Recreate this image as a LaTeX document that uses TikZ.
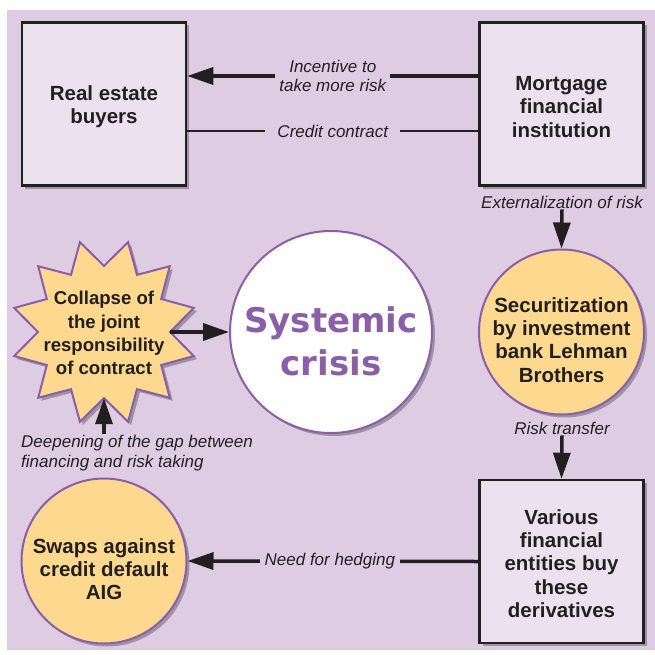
\documentclass[tikz,border=0pt]{standalone}
\usepackage{fontspec}
\setmainfont{Liberation Sans}
\newfontfamily\heavyfont{DejaVu Sans}
\usetikzlibrary{arrows.meta,shadows}
\definecolor{bg}{HTML}{DECCE3}
\definecolor{boxfill}{HTML}{ECE1EF}
\definecolor{orangefill}{HTML}{FDD98F}
\definecolor{purp}{HTML}{8B5FA8}
\definecolor{shadowc}{HTML}{9C94A2}
\definecolor{ink}{HTML}{231F20}
\begin{document}
\begin{tikzpicture}[x=1pt,y=-1pt,
  shad/.style={drop shadow={shadow xshift=3pt, shadow yshift=-3pt, fill=shadowc, opacity=1}},
  boxnode/.style={shad, draw=ink, line width=2.5pt, fill=boxfill, minimum width=164pt, minimum height=163pt, inner sep=0pt},
  circnode/.style={shad, circle, draw=purp, line width=2pt, fill=orangefill, minimum size=165pt, inner sep=0pt},
  bodytext/.style={align=center, text=ink, font=\bfseries\fontsize{20.5}{23.3}\selectfont, inner sep=0pt},
  lab/.style={text=ink, fill=bg, inner xsep=6pt, inner ysep=1pt, align=center, font=\itshape\fontsize{17}{18.5}\selectfont},
  freelab/.style={text=ink, inner sep=1pt, align=center, font=\itshape\fontsize{17}{20}\selectfont},
  conn/.style={draw=ink, line width=3.5pt, -{Triangle[length=26pt,width=17pt]}},
  plainline/.style={draw=ink, line width=2.7pt}
]
\useasboundingbox (0,0) rectangle (655,655);
\fill[bg] (7,10) rectangle (655,650);

% boxes
\node[boxnode] (reb) at (104,104) {};
\node[bodytext] (rebT) at (104,106.5) {Real estate\\buyers};
\node[boxnode] (mort) at (561.5,104) {};
\node[bodytext] (mortT) at (561.5,107) {Mortgage\\financial\\institution};
\node[boxnode] (var) at (561.5,561.5) {};
\node[bodytext] (varT) at (561.5,563.5) {Various\\financial\\entities buy\\these\\derivatives};

% circles
\node[circnode] (sec) at (561.5,332) {};
\node[bodytext] (secT) at (561.5,340) {Securitization\\by investment\\bank Lehman\\Brothers};
\node[circnode] (aig) at (104,561) {};
\node[bodytext] (aigT) at (104,569) {Swaps against\\credit default\\AIG};
\node[shad, circle, draw=purp, line width=2pt, fill=white, minimum size=202pt, inner sep=0pt] (sys) at (331,332) {};
\node[align=center, text=purp, inner sep=0pt, font=\heavyfont\bfseries\fontsize{34}{43}\selectfont] (sysT) at (331,341) {Systemic\\crisis};

% star (12 points)
\node[circle, minimum size=132pt, inner sep=0pt] (star) at (104,332) {};
\draw[shad, draw=purp, line width=2pt, fill=orangefill, line join=miter, shift={(104,332)}]
  plot[samples at={0,...,23}] ({15+15*\x}:{isodd(\x) ? 66 : 93}) -- cycle;
\node[align=center, text=ink, inner sep=0pt, font=\bfseries\fontsize{18.6}{23.3}\selectfont] (starT) at (104,333) {Collapse of\\the joint\\responsibility\\of contract};

% connectors
\draw[conn] (mort.west |- 0,76) -- (reb.east |- 0,76) node[lab, midway, inner xsep=4pt] (incT) {Incentive to\\take more risk};
\draw[plainline] (reb.east |- 0,131) -- (mort.west |- 0,131) node[lab, midway, inner xsep=12pt] (credT) {Credit contract};

\node[freelab] (extT) at (562,202) {Externalization of risk};
\draw[conn] (extT.south) -- (sec.north);

\node[freelab] (rtT) at (562,428) {Risk transfer};
\draw[conn] (rtT.south) -- (var.north);

\draw[conn] (var.west) -- (aig.east) node[lab, midway, xshift=-3pt, inner xsep=5pt] (hedT) {Need for hedging};

\draw[conn] (star.east) -- (star.east -| sys.west);

\node[freelab, align=left, anchor=north west] (deepT) at (20,434) {Deepening of the gap between\\financing and risk taking};
\draw[conn] (star.south |- deepT.north) -- (star.south);
\end{tikzpicture}
\end{document}
